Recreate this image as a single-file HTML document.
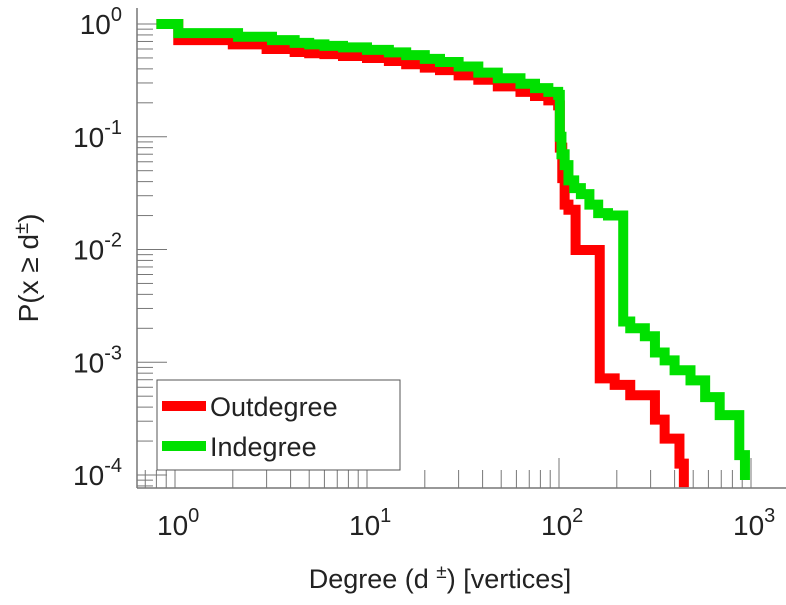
<!DOCTYPE html>
<html><head><meta charset="utf-8"><style>
body{margin:0;background:#fff}
svg text{font-family:"Liberation Sans",sans-serif;fill:#222}
</style></head><body>
<svg width="786" height="600" viewBox="0 0 786 600">
<g id="axes"></g>
<g id="series"></g>
<g id="legend">
<rect x="157" y="380" width="243" height="90" fill="#fff" stroke="#555" stroke-width="1"/>
<line x1="162" y1="406" x2="206" y2="406" stroke="#ff0000" stroke-width="10"/>
<text x="210" y="416" font-size="27">Outdegree</text>
<line x1="162" y1="446" x2="206" y2="446" stroke="#00e000" stroke-width="10"/>
<text x="210" y="456" font-size="27">Indegree</text>
</g>
<text x="0" y="0" font-size="28" transform="translate(38,268) rotate(-90)" text-anchor="middle">P(x ≥ d<tspan dy="-10" font-size="20">±</tspan><tspan dy="10">)</tspan></text>
<text x="440" y="588" font-size="27" text-anchor="middle">Degree (d <tspan dy="-10" font-size="19">±</tspan><tspan dy="10">) [vertices]</tspan></text>
</svg>
<script>
const xDecades=[0,1,2,3];
const yDecades=[0,-1,-2,-3,-4];
const outDeg=[0.8,1.04,2.0,3.0,4.2,5,6,7.5,10,13,16,20,24,30,38,48,63,75,88,99,101,104,107,112,122,160,163,195,235,316,355,424,447];
const outP=[1,0.72,0.66,0.60,0.565,0.55,0.54,0.52,0.50,0.47,0.44,0.41,0.39,0.35,0.32,0.28,0.25,0.23,0.21,0.19,0.08,0.043,0.025,0.0225,0.0099,0.0099,0.00072,0.00063,0.00051,0.00031,0.00021,0.000126,0.000078];
const inDeg=[0.8,1.04,2.13,3.2,4.2,5,6,7.5,10,13,16,20,24,30,38,48,63,75,88,99,101,103,107,112,120,130,144,160,180,213,216,235,280,316,355,400,484,577,687,869,930];
const inP=[1,0.83,0.77,0.72,0.68,0.66,0.64,0.62,0.59,0.56,0.53,0.49,0.46,0.42,0.37,0.33,0.295,0.27,0.25,0.235,0.1,0.07,0.056,0.041,0.035,0.031,0.025,0.021,0.020,0.020,0.0023,0.0020,0.0017,0.00122,0.00104,0.00085,0.00069,0.00049,0.00034,0.000150,0.0000903];
const NS='http://www.w3.org/2000/svg';
const X=d=>175+192*Math.log10(d);
const Y=p=>24-112.75*Math.log10(p);
const L=137,B=488,R=786,T=8;
const ax=document.getElementById('axes');
function mk(t,a,p){const e=document.createElementNS(NS,t);for(const k in a)e.setAttribute(k,a[k]);(p||ax).appendChild(e);return e;}
let e=mk('line',{x1:L,y1:T,x2:L,y2:B,stroke:'#777','stroke-width':1.5});


e=mk('line',{x1:L,y1:B,x2:R,y2:B,stroke:'#777','stroke-width':1.5});


for(let k=-1;k<=3;k++)for(let m=1;m<10;m++){const x=X(m*Math.pow(10,k));if(x<L||x>R)continue;
 e=mk('line',{x1:x,y1:B,x2:x,y2:B-(m==1?30:18),stroke:'#777','stroke-width':1});
 
 }
for(let k=-5;k<=0;k++)for(let m=1;m<10;m++){const y=Y(m*Math.pow(10,k));if(y>B||y<T)continue;
 e=mk('line',{x1:L,y1:y,x2:L+(m==1?30:16),y2:y,stroke:'#777','stroke-width':1});
 
 }
xDecades.forEach(k=>{const t=mk('text',{x:X(Math.pow(10,k))-18,y:535,'font-size':28});
 t.innerHTML='10<tspan dy="-13" font-size="20">'+k+'</tspan>';
 
 });
yDecades.forEach(k=>{const t=mk('text',{x:122,y:Y(Math.pow(10,k))+10,'font-size':28,'text-anchor':'end'});
 t.innerHTML='10<tspan dy="-13" font-size="20">'+(k<0?'-'+(-k):k)+'</tspan>';
 
 });
const sg=document.getElementById('series');
function draw(ds,ps,col,name){let pts=[];for(let i=0;i<ds.length;i++){const x=Math.max(L,X(ds[i]));const y=Y(ps[i]);
  if(i>0)pts.push(x+','+Y(ps[i-1]));pts.push(x+','+y);}
 const l=mk('polyline',{points:pts.join(' '),fill:'none',stroke:col,'stroke-width':10,'stroke-linejoin':'miter'},sg);
 
 }
draw(outDeg,outP,'#ff0000','outdegree-line');
draw(inDeg,inP,'#00e000','indegree-line');
</script>
</body></html>
